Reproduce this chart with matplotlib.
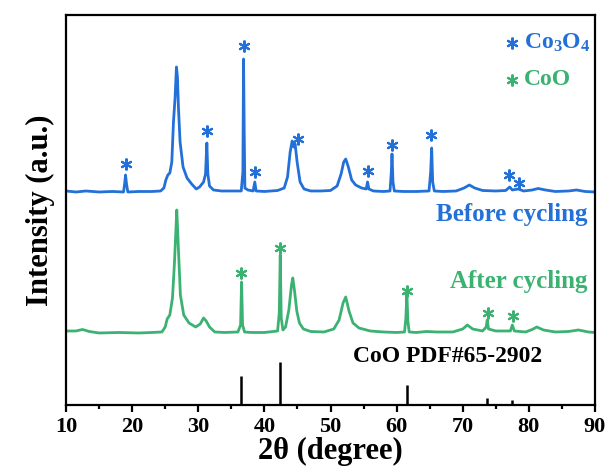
import matplotlib
matplotlib.use("Agg")
import matplotlib.pyplot as plt
import numpy as np

before_x = [10.0, 11.5, 13, 15, 17, 18.7, 18.9, 19.0, 19.15, 19.35, 21, 23, 24.3, 24.8, 25.1, 25.4, 25.7,
            26.0, 26.25, 26.5, 26.7, 26.85, 27.0, 27.25, 27.7, 28.3, 29.0, 29.7, 30.2, 30.8, 31.1, 31.3,
            31.45, 31.7, 32.3, 33.5, 35, 36.5, 36.75, 36.85, 36.95, 37.05, 37.5, 38.3, 38.55, 38.75, 40,
            42, 43.0, 43.5, 43.9, 44.2, 44.45, 44.65, 44.95, 45.4, 46.0, 47, 48.5, 50, 51.0, 51.6, 52.0,
            52.3, 52.7, 53.2, 53.8, 54.7, 55.4, 55.6, 55.8, 56.5, 58, 59.0, 59.2, 59.3, 59.45, 59.65, 61,
            63, 64.9, 65.15, 65.3, 65.45, 65.7, 67, 69, 70.2, 71.0, 71.8, 73, 75, 76.5, 77.1, 77.5, 78.4,
            79.2, 80.5, 81.4, 82.5, 84, 86, 87.2, 88.5, 90]
before_y = [1, 0, 1, 0, 0.5, 0, 10, 17, 8, 0, 0.5, 0.5, 1, 4, 12, 17, 19,
            30, 70, 95, 125, 115, 85, 50, 25, 14, 8, 3, 5, 10, 18, 49,
            18, 6, 2, 1, 1, 1, 20, 133, 60, 4, 2, 1, 10, 1, 0.5,
            1.5, 4, 15, 40, 51, 45, 48, 30, 10, 3, 1, 1, 1.5, 6, 18, 30,
            33, 25, 12, 7, 4, 3, 10, 3, 1, 0.5, 1, 20, 38, 10, 1, 0.5,
            0.5, 1, 20, 44, 10, 1, 0.5, 1, 4, 7, 4, 1.5, 1, 1.5, 5, 2, 3,
            1, 2, 3.5, 2, 0.5, 1, 2, 0.5, 0]

after_x = [10, 11.5, 12.5, 13.5, 15, 18, 21, 23, 24.5, 25.0, 25.3, 25.7, 26.1, 26.4, 26.6, 26.75, 26.9,
           27.05, 27.3, 27.8, 28.6, 29.6, 30.3, 30.8, 31.2, 31.7, 32.5, 34, 36.0, 36.4, 36.55, 36.7, 37.0,
           38, 40, 42.0, 42.25, 42.4, 42.55, 42.8, 43.2, 43.7, 44.1, 44.3, 44.6, 44.9, 45.3, 45.9, 47, 49,
           50.5, 51.3, 51.9, 52.3, 52.8, 53.4, 54.3, 56, 58, 60, 61.2, 61.4, 61.55, 61.7, 61.9, 63, 64.5,
           66, 68.5, 70.0, 70.7, 71.5, 73.0, 73.55, 73.7, 73.9, 75, 77.2, 77.5, 77.8, 79.5, 80.5, 81.2,
           82.2, 84, 86, 87.5, 89, 90]
after_y = [2, 2, 3.5, 1.5, 0, 0.5, 0, 0.5, 1, 6, 14, 18, 35, 70, 100, 123, 100,
           76, 38, 18, 10, 6, 9, 15, 12, 6, 1, 0.5, 1, 8, 51, 8, 1,
           0.5, 0.5, 2, 20, 78, 15, 3, 6, 23, 48, 55, 40, 22, 10, 4, 1.5, 1,
           4, 13, 30, 36, 22, 10, 5, 2, 1, 0.5, 1, 15, 40, 12, 1, 0.5, 1.5,
           1, 1, 4, 8, 4, 2, 6, 13, 4, 2, 2, 8, 2, 1, 3.5, 6,
           3, 1, 1.5, 3, 1, 0.5]

# CoO standard card lines
pdf_pos = [36.5, 42.4, 61.5, 73.7, 77.5]
pdf_int = [29, 43, 20, 7, 5]

# asterisk marks (2theta, height above baseline)
co3o4_x = [19.0, 31.3, 36.9, 38.6, 45.1, 55.6, 59.3, 65.2, 77.0, 78.55]
co3o4_h = [28, 61, 146, 20, 53, 21, 47, 57, 17, 9]
coo_x = [36.5, 42.4, 61.5, 73.8, 77.6]
coo_h = [60, 85, 42, 20, 17]

blue = '#2270d8'
green = '#3cb272'
off_before = 213
off_after = 72

plt.rcParams['font.family'] = 'Liberation Serif'
plt.rcParams['font.weight'] = 'bold'
plt.rcParams['mathtext.fontset'] = 'custom'
plt.rcParams['mathtext.rm'] = 'Liberation Serif:bold'
plt.rcParams['mathtext.it'] = 'Liberation Serif:bold'
plt.rcParams['mathtext.bf'] = 'Liberation Serif:bold'

fig = plt.figure(figsize=(6.09, 4.73), dpi=100)
ax = fig.add_axes([0.1084, 0.1438, 0.8686, 0.8245])

ax.plot(before_x, np.array(before_y) + off_before, color=blue, lw=2)
ax.plot(after_x, np.array(after_y) + off_after, color=green, lw=2)
ax.vlines(pdf_pos, 0, pdf_int, color='black', lw=1.8)

star = (6, 2, 0)
ax.plot(co3o4_x, np.array(co3o4_h) + off_before, ls='none', marker=star, ms=8.5, mew=1.5, color=blue)
ax.plot(coo_x, np.array(coo_h) + off_after, ls='none', marker=star, ms=8.5, mew=1.5, color=green)

# legend made by hand
ax.plot([77.4], [361.7], marker=star, ms=8.5, mew=1.5, color=blue)
ax.plot([77.4], [325], marker=star, ms=8.5, mew=1.5, color=green)
ax.text(79.3, 361.7, r'Co$_\mathbf{3}$O$_\mathbf{4}$', color=blue, fontsize=17, fontweight='bold', va='center')
ax.text(79.3, 325, 'CoO', color=green, fontsize=17, fontweight='bold', va='center')

ax.text(88.8, 190, 'Before cycling', color=blue, fontsize=18, fontweight='bold', ha='right', va='center')
ax.text(88.8, 123, 'After cycling', color=green, fontsize=18, fontweight='bold', ha='right', va='center')
ax.text(67.7, 48, 'CoO PDF#65-2902', color='black', fontsize=17, fontweight='bold', ha='center', va='center')

ax.set_xlim(10, 90)
ax.set_ylim(0, 390)
ax.set_xticks(np.arange(10, 91, 10))
ax.set_xticks(np.arange(15, 90, 10), minor=True)
ax.set_yticks([])
ax.tick_params(axis='x', which='major', direction='out', length=5, width=1.6, labelsize=16)
ax.tick_params(axis='x', which='minor', direction='out', length=3, width=1.6)
for lbl in ax.get_xticklabels():
    lbl.set_fontweight('bold')
for s in ax.spines.values():
    s.set_linewidth(1.6)

ax.set_xlabel('2θ (degree)', fontsize=22, fontweight='bold', labelpad=0)
ax.set_ylabel('Intensity (a.u.)', fontsize=22, fontweight='bold', labelpad=8)

fig.savefig('out.png', dpi=100)
